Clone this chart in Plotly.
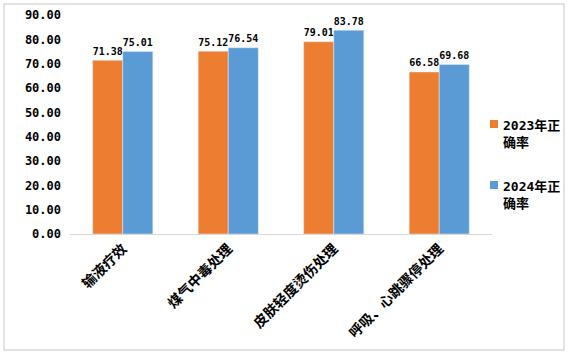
import plotly.graph_objects as go

categories = ["输液疗效", "煤气中毒处理", "皮肤轻度烫伤处理", "呼吸、心跳骤停处理"]
series_2023 = [71.38, 75.12, 79.01, 66.58]
series_2024 = [75.01, 76.54, 83.78, 69.68]
series_names = ["2023年正<br>确率", "2024年正<br>确率"]
series_colors = ["#ED7D31", "#5B9BD5"]
tick_vals = [0, 10, 20, 30, 40, 50, 60, 70, 80, 90]
tick_text = [f"{v:.2f}" for v in tick_vals]

W, H = 570, 356
num_font = "DejaVu Sans Mono, Noto Sans CJK SC"
cjk_font = "Noto Sans CJK SC"

fig = go.Figure()
for name, vals, col in zip(series_names, [series_2023, series_2024], series_colors):
    fig.add_trace(go.Bar(
        x=categories, y=vals, name=name,
        marker_color=col,
        text=[f"{v:.2f}" for v in vals], textposition="outside",
        textfont=dict(size=12, color="#000000", family=num_font, weight="bold"),
        cliponaxis=False, showlegend=False,
    ))

shapes = [dict(
    type="rect", xref="paper", yref="paper",
    x0=4 / W, x1=564 / W, y0=1 - 350 / H, y1=1 - 4 / H,
    line=dict(color="#D9D9D9", width=1.5), fillcolor="rgba(0,0,0,0)",
)]
annotations = []
legend_tops = [119, 180]
for name, col, top in zip(series_names, series_colors, legend_tops):
    shapes.append(dict(
        type="rect", xref="paper", yref="paper",
        x0=490 / W, x1=498 / W, y0=1 - (top + 9) / H, y1=1 - (top + 1) / H,
        line=dict(width=0), fillcolor=col,
    ))
    annotations.append(dict(
        xref="paper", yref="paper", x=501 / W, y=1 - (top - 3) / H,
        xanchor="left", yanchor="top", align="left", showarrow=False,
        text=name,
        font=dict(size=13, family=num_font, color="#000000", weight="bold"),
    ))

fig.update_layout(
    width=W, height=H,
    margin=dict(l=0, r=0, t=0, b=0, pad=0),
    paper_bgcolor="white", plot_bgcolor="white",
    barmode="group", bargap=0.43, bargroupgap=0,
    font=dict(family=cjk_font, color="#000000", size=13),
    showlegend=False,
    xaxis=dict(
        domain=[70 / W, 492 / W],
        tickangle=-45, automargin=False,
        tickfont=dict(size=14, family=cjk_font, weight="bold"),
        showline=True, linecolor="#D9D9D9", linewidth=1,
        ticks="", showgrid=False,
    ),
    yaxis=dict(
        domain=[1 - 234 / H, 1 - 15 / H],
        range=[0, 90], automargin=False,
        tickvals=tick_vals, ticktext=tick_text,
        tickfont=dict(size=12, family=num_font, weight="bold"),
        showgrid=False, zeroline=False, showline=False,
        ticks="", ticklabelstandoff=8,
    ),
    shapes=shapes,
    annotations=annotations,
)

fig.write_html(
    "out.html",
    config={"displayModeBar": False},
    post_script="document.body.style.margin='0';document.body.style.overflow='hidden';",
)
